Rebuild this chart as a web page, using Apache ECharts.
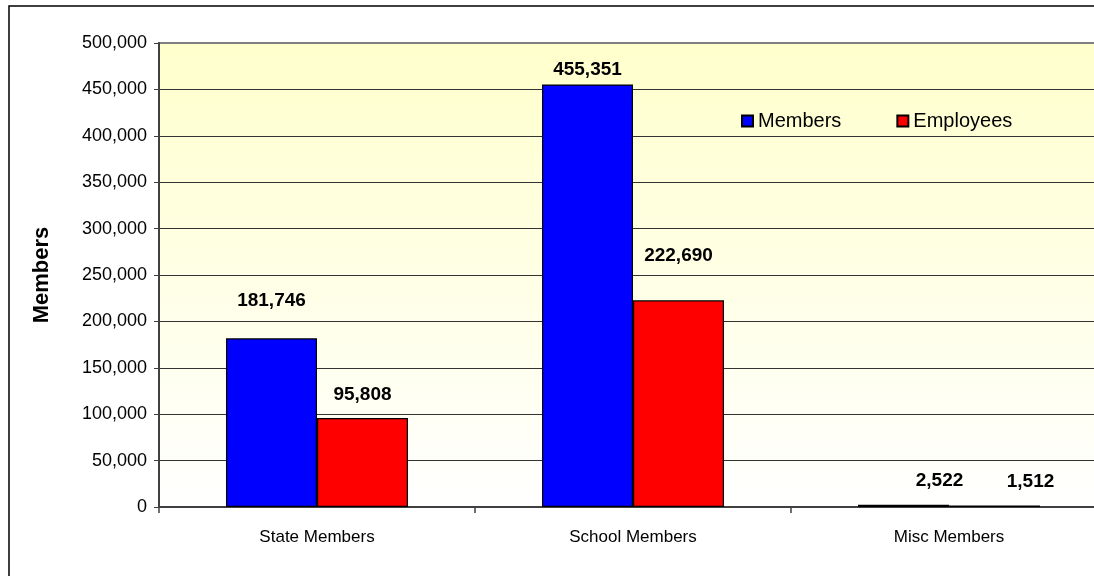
<!DOCTYPE html>
<html>
<head>
<meta charset="utf-8">
<style>
  html, body { margin: 0; padding: 0; background: #fff; }
  #chart { width: 1094px; height: 576px; }
</style>
<script src="https://cdn.jsdelivr.net/npm/echarts@6/dist/echarts.min.js"></script>
</head>
<body>
<div id="chart"></div>
<script>
const categories = ['State Members', 'School Members', 'Misc Members']
const members = [181746, 455351, 2522]
const employees = [95808, 222690, 1512]
const yTicks = { min: 0, max: 500000, interval: 50000 }

// Excel placed the value labels by hand, so each one sits at its own spot
const membersLabelLift = [28, 5, 14]
const employeesLabelLift = [14, 35, 14]
const membersLabelShift = [0, 0, 36]
const employeesLabelShift = [0, 0, 36]

const fmt = v => Number(v).toLocaleString('en-US')

function withLabels(values, lifts, shifts) {
  return values.map((v, i) => ({
    value: v,
    label: { distance: lifts[i], offset: [shifts[i], 0] }
  }))
}

const chart = echarts.init(document.getElementById('chart'))

const barLabel = {
  show: true,
  position: 'top',
  fontFamily: 'Arial, "Liberation Sans", sans-serif',
  fontSize: 19,
  fontWeight: 'bold',
  color: '#000',
  formatter: p => fmt(p.value)
}

chart.setOption({
  animation: false,
  textStyle: { fontFamily: 'Arial, "Liberation Sans", sans-serif' },
  graphic: [
    {
      type: 'rect',
      z: 100,
      silent: true,
      shape: { x: 9, y: 6, width: 1110, height: 620 },
      style: { fill: null, stroke: '#000', lineWidth: 1.5 }
    }
  ],
  legend: {
    data: ['Members', 'Employees'],
    left: 736,
    top: 106,
    itemWidth: 11,
    itemHeight: 11,
    itemGap: 55,
    textStyle: { fontSize: 20, color: '#000', padding: [0, 0, 0, 0] },
    icon: 'rect'
  },
  grid: {
    left: 159,
    top: 43,
    width: 948,
    height: 464,
    outerBoundsMode: 'none',
    show: true,
    borderColor: '#808080',
    borderWidth: 2,
    backgroundColor: new echarts.graphic.LinearGradient(0, 0, 0, 1, [
      { offset: 0, color: '#ffffcc' },
      { offset: 1, color: '#ffffff' }
    ])
  },
  xAxis: {
    type: 'category',
    data: categories,
    axisLine: { lineStyle: { color: '#404040', width: 2 } },
    axisTick: { show: true, length: 6, lineStyle: { color: '#404040', width: 1.5 } },
    axisLabel: { fontSize: 17, color: '#000', margin: 22 }
  },
  yAxis: {
    type: 'value',
    min: yTicks.min,
    max: yTicks.max,
    interval: yTicks.interval,
    name: 'Members',
    nameLocation: 'middle',
    nameRotate: 90,
    nameGap: 106,
    nameTextStyle: { fontSize: 22, fontWeight: 'bold', color: '#000' },
    axisLine: { show: true, lineStyle: { color: '#404040', width: 2 } },
    axisTick: { show: true, length: 5, lineStyle: { color: '#404040' } },
    axisLabel: { fontSize: 18, color: '#000', margin: 12, formatter: v => fmt(v) },
    splitLine: { show: true, showMaxLine: false, lineStyle: { color: '#333', width: 1 } }
  },
  series: [
    {
      name: 'Members',
      type: 'bar',
      barGap: 0,
      barCategoryGap: '42.4%',
      data: withLabels(members, membersLabelLift, membersLabelShift),
      label: barLabel,
      itemStyle: { color: '#0000ff', borderColor: '#000', borderWidth: 1.2 }
    },
    {
      name: 'Employees',
      type: 'bar',
      barGap: 0,
      barCategoryGap: '42.4%',
      data: withLabels(employees, employeesLabelLift, employeesLabelShift),
      label: barLabel,
      itemStyle: { color: '#ff0000', borderColor: '#000', borderWidth: 1.2 }
    }
  ]
})
</script>
</body>
</html>
